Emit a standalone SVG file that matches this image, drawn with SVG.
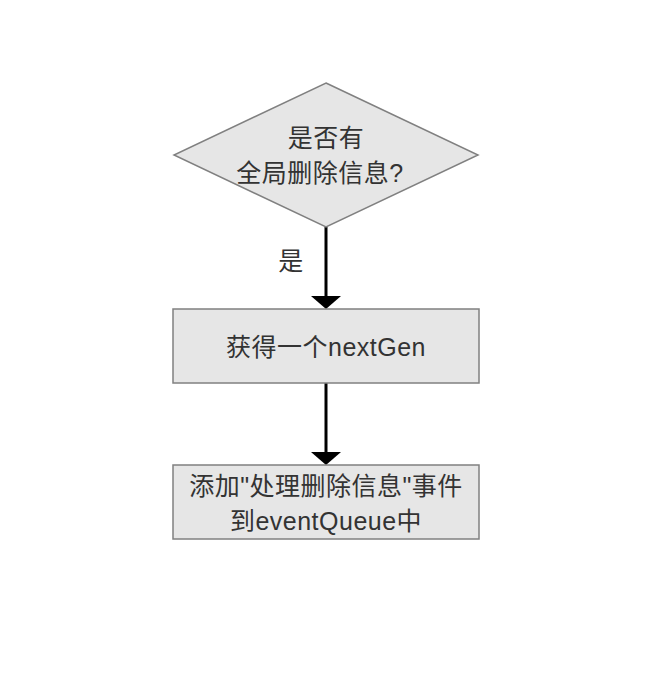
<svg xmlns="http://www.w3.org/2000/svg" width="662" height="684" viewBox="0 0 662 684">
<style>
.shape{fill:#e6e6e6;stroke:#808080;stroke-width:1.5}
.t{font-family:"Liberation Sans","Noto Sans CJK SC",sans-serif;font-size:25px;fill:#333;text-anchor:middle;letter-spacing:0.5px}
.c{stroke:#000;stroke-width:3;fill:none}
</style>
<rect width="662" height="684" fill="#fff"/>
<g id="connectors">
<line class="c" x1="326" y1="227" x2="326" y2="297"/>
<path d="M311,296 L341,296 L326,309 Z" fill="#000"/>
<line class="c" x1="326" y1="383" x2="326" y2="453"/>
<path d="M311,452 L341,452 L326,465 Z" fill="#000"/>
<text class="t" x="291" y="270">是</text>
</g>
<g id="decision">
<polygon class="shape" points="326,83 478,155 326,227 174,155"/>
<text class="t" x="326" y="147">是否有</text>
<text class="t" x="320" y="182">全局删除信息?</text>
</g>
<g id="nextgen">
<rect class="shape" x="173" y="309" width="306" height="74"/>
<text class="t" x="326" y="356">获得一个nextGen</text>
</g>
<g id="event">
<rect class="shape" x="173" y="465" width="306" height="74"/>
<text class="t" x="326" y="495">添加"处理删除信息"事件</text>
<text class="t" x="326" y="530">到eventQueue中</text>
</g>
</svg>
